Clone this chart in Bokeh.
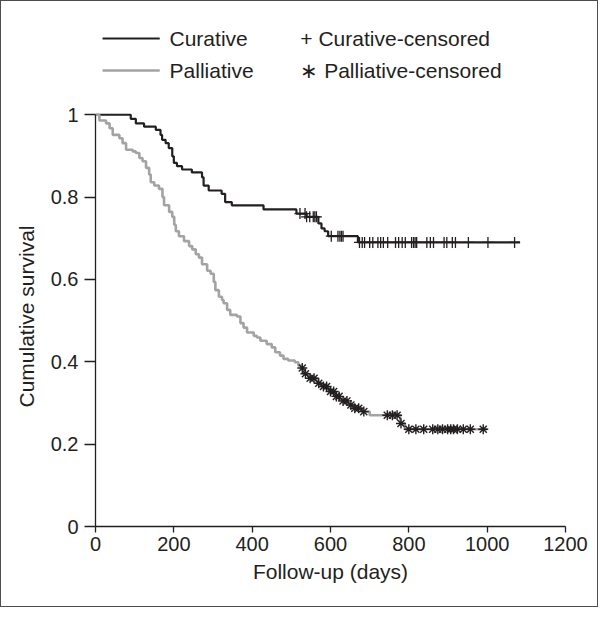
import numpy as np
from bokeh.plotting import figure
from bokeh.layouts import column
from bokeh.models import Range1d, FixedTicker
from bokeh.core.properties import value
from bokeh.embed import file_html
from bokeh.resources import INLINE

# ---- data ----
cur_t = [0, 90, 103, 124, 154, 166, 170, 179, 187, 196, 200, 208, 221, 246, 272, 276,
         289, 322, 331, 348, 429, 513, 539, 569, 577, 585, 594, 670]
cur_s = [1.0, 0.990, 0.979, 0.971, 0.963, 0.951, 0.939, 0.931, 0.919, 0.899, 0.883,
         0.875, 0.867, 0.860, 0.848, 0.828, 0.816, 0.808, 0.788, 0.780, 0.770, 0.760,
         0.752, 0.736, 0.724, 0.717, 0.705, 0.690]
cur_end = 1084
cur_cens = [522, 535, 539, 547, 556, 560, 564, 602, 619, 624, 628, 632, 674, 681, 687,
            700, 708, 721, 728, 735, 746, 766, 774, 783, 791, 807, 812, 816, 820, 846,
            855, 863, 890, 897, 911, 919, 952, 1002, 1070]

pal_t = [0, 10, 27, 36, 44, 61, 69, 78, 95, 103, 112, 120, 129, 137, 141, 150, 162, 171,
         175, 188, 196, 201, 205, 213, 226, 239, 247, 256, 264, 272, 285, 294, 302, 306,
         315, 323, 327, 336, 344, 361, 370, 378, 387, 404, 412, 421, 437, 450, 459, 471,
         480, 492, 509, 518, 526, 532, 545, 565, 578, 595, 610, 625, 645, 662, 680, 700,
         778, 790]
pal_s = [1.0, 0.986, 0.979, 0.967, 0.951, 0.943, 0.931, 0.915, 0.911, 0.907, 0.895,
         0.887, 0.871, 0.855, 0.836, 0.828, 0.820, 0.800, 0.780, 0.764, 0.752, 0.733,
         0.717, 0.705, 0.693, 0.681, 0.673, 0.661, 0.653, 0.637, 0.621, 0.614, 0.594,
         0.574, 0.558, 0.550, 0.542, 0.526, 0.514, 0.510, 0.494, 0.483, 0.471, 0.463,
         0.459, 0.451, 0.443, 0.435, 0.423, 0.415, 0.407, 0.403, 0.399, 0.391, 0.385,
         0.371, 0.360, 0.348, 0.340, 0.328, 0.316, 0.305, 0.295, 0.287, 0.279, 0.270,
         0.250, 0.236]
pal_end = 1000
pal_cens = [528, 536, 548, 558, 570, 582, 590, 600, 608, 615, 622, 632, 642, 652, 662,
            672, 685, 745, 758, 770, 780, 800, 818, 838, 861, 874, 886, 899, 907, 914,
            924, 939, 957, 990]

x_ticks = [0, 200, 400, 600, 800, 1000, 1200]
y_ticks = [0, 0.2, 0.4, 0.6, 0.8, 1.0]
y_tick_labels = {0: "0", 0.2: "0.2", 0.4: "0.4", 0.6: "0.6", 0.8: "0.8", 1.0: "1"}

legend_lines = ["Curative", "Palliative"]
legend_marks = ["+ Curative-censored", "\u2217 Palliative-censored"]
x_title = "Follow-up (days)"
y_title = "Cumulative survival"

DARK = "#231f20"
GRAY = "#a3a3a3"
FONT = "Liberation Sans"
W = 596


def step_at(times, surv, q):
    idx = np.searchsorted(np.asarray(times), np.asarray(q), side="right") - 1
    return np.asarray(surv)[idx]


# ---------- legend strip (top) ----------
leg = figure(width=W, height=95, output_backend="svg", toolbar_location=None,
             x_range=Range1d(0, 1200), y_range=Range1d(0, 95),
             x_axis_type=None, y_axis_type=None,
             min_border_left=94, min_border_right=32, min_border_top=0,
             min_border_bottom=0)
leg.outline_line_color = None
leg.xgrid.visible = False
leg.ygrid.visible = False
leg_y = [58, 26]
leg.line([18, 164], [leg_y[0]] * 2, line_color=DARK, line_width=2.2)
leg.line([18, 164], [leg_y[1]] * 2, line_color=GRAY, line_width=2.6)
leg.text([189, 189], leg_y, text=legend_lines, text_font=value(FONT),
         text_font_size="21px", text_color=DARK, text_baseline="middle")
leg.text([523, 523], leg_y, text=legend_marks, text_font=value(FONT),
         text_font_size="21px", text_color=DARK, text_baseline="middle")

# ---------- main plot ----------
p = figure(width=W, height=510, output_backend="svg", toolbar_location=None,
           x_range=Range1d(0, 1200), y_range=Range1d(0, 1.02),
           min_border_left=94, min_border_right=32, min_border_top=10,
           min_border_bottom=80)
p.outline_line_color = None
p.xgrid.visible = False
p.ygrid.visible = False

p.step(cur_t + [cur_end], cur_s + [cur_s[-1]], mode="after", line_color=DARK, line_width=2.2)
p.step(pal_t + [pal_end], pal_s + [pal_s[-1]], mode="after", line_color=GRAY, line_width=2.6)

p.scatter(cur_cens, step_at(cur_t, cur_s, cur_cens), marker="cross", size=11,
          line_color=DARK, line_width=1.3)
p.scatter(pal_cens, step_at(pal_t, pal_s, pal_cens), marker="asterisk", size=10,
          line_color=DARK, line_width=1.4)

for ax in (p.xaxis[0], p.yaxis[0]):
    ax.axis_line_color = DARK
    ax.axis_line_width = 1.3
    ax.major_tick_line_color = DARK
    ax.major_tick_line_width = 1.3
    ax.major_tick_in = 0
    ax.minor_tick_line_color = None
    ax.major_label_text_font = FONT
    ax.major_label_text_font_size = "20px"
    ax.major_label_text_color = DARK
    ax.axis_label_text_font = FONT
    ax.axis_label_text_font_size = "21px"
    ax.axis_label_text_font_style = "normal"
    ax.axis_label_text_color = DARK

p.xaxis.ticker = FixedTicker(ticks=x_ticks)
p.xaxis.bounds = (0, 1200)
p.xaxis.major_tick_out = 6
p.xaxis.major_label_standoff = 4
p.xaxis.axis_label = x_title
p.xaxis.axis_label_standoff = 6

p.yaxis.ticker = FixedTicker(ticks=y_ticks)
p.yaxis.bounds = (0, 1)
p.yaxis.major_label_overrides = y_tick_labels
p.yaxis.major_tick_out = 11
p.yaxis.major_label_standoff = 6
p.yaxis.axis_label = y_title
p.yaxis.axis_label_standoff = 10

layout = column(leg, p, spacing=0)
layout.styles = {"border": "1.5px solid #4d4d4d", "background-color": "white"}

open("out.html", "w").write(file_html(layout, INLINE))
